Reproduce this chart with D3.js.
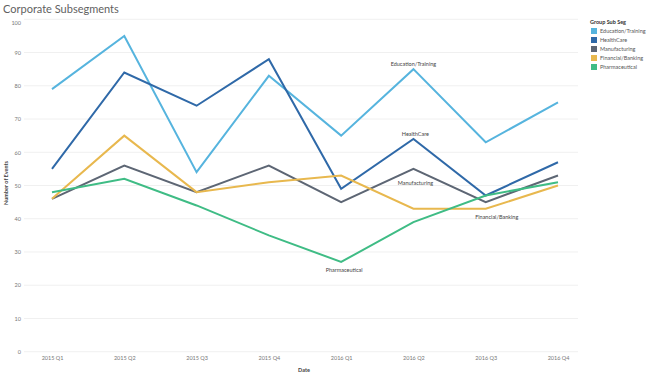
<!DOCTYPE html>
<html><head><meta charset="utf-8">
<script src="https://cdn.jsdelivr.net/npm/d3@7"></script>
<style>body{margin:0;background:#fff;}svg{display:block;font-family:Lato,"Open Sans",sans-serif;}</style>
</head><body>
<svg id="c" width="650" height="376"></svg>
<script>
const quarters = ["2015 Q1","2015 Q2","2015 Q3","2015 Q4","2016 Q1","2016 Q2","2016 Q3","2016 Q4"];
const seriesNames = ["Education/Training","HealthCare","Manufacturing","Financial/Banking","Pharmaceutical"];
const educationTraining = [79,95,54,83,65,85,63,75];
const healthCare = [55,84,74,88,49,64,47,57];
const manufacturing = [46,56,48,56,45,55,45,53];
const financialBanking = [46,65,48,51,53,43,43,50];
const pharmaceutical = [48,52,44,35,27,39,47,51];
const yTicks = [0,10,20,30,40,50,60,70,80,90,100];
const colors = ["#56b4de","#2f69a8","#5d6674","#e8b84e","#3fbc85"];
// annotation: index of point to label, offset
const labelAt = [5,5,5,6,4];
const labelDy = [-3,-3,16,10.5,10];
const labelDx = [0,2,2,11,3];

const values = [educationTraining,healthCare,manufacturing,financialBanking,pharmaceutical];
const svg = d3.select("#c");
const x = d3.scalePoint().domain(quarters).range([52,558]);
const y = d3.scaleLinear().domain([0,100]).range([351.7,19.3]);

svg.append("text").attr("x",3).attr("y",13).attr("font-size",11).attr("font-weight",400).attr("fill","#5f5f5f").text("Corporate Subsegments");

// gridlines
svg.append("g").selectAll("line").data(yTicks).join("line")
  .attr("x1",24).attr("x2",578).attr("y1",d=>y(d)).attr("y2",d=>y(d))
  .attr("stroke","#f0f0f0").attr("stroke-width",1);

// y axis
const ya = svg.append("g").attr("transform","translate(24,0)")
  .call(d3.axisLeft(y).tickValues(yTicks).tickSize(0).tickPadding(3));
ya.select(".domain").remove();
ya.selectAll("text").attr("font-size",5.5).attr("fill","#777").attr("font-family","Lato,sans-serif")
  .attr("dy",(d)=> d===100 ? "0.9em" : "0.32em");

svg.append("text").attr("transform","translate(8,183) rotate(-90)").attr("text-anchor","middle")
  .attr("font-size",5.5).attr("font-weight","bold").attr("fill","#444").text("Number of Events");

// x axis
const xa = svg.append("g").attr("transform","translate(0,354)")
  .call(d3.axisBottom(x).tickSize(0).tickPadding(2));
xa.select(".domain").remove();
xa.selectAll("text").attr("font-size",5.5).attr("fill","#777").attr("font-family","Lato,sans-serif");
svg.append("text").attr("x",304).attr("y",372).attr("text-anchor","middle")
  .attr("font-size",5.5).attr("font-weight","bold").attr("fill","#444").text("Date");

// lines
const line = d3.line().x((d,i)=>x(quarters[i])).y(d=>y(d));
svg.append("g").selectAll("path").data(values).join("path")
  .attr("d",d=>line(d)).attr("fill","none")
  .attr("stroke",(d,i)=>colors[i]).attr("stroke-width",2).attr("stroke-linejoin","miter");

// annotations
svg.append("g").selectAll("text").data(seriesNames).join("text")
  .attr("x",(d,i)=>x(quarters[labelAt[i]])+labelDx[i])
  .attr("y",(d,i)=>y(values[i][labelAt[i]])+labelDy[i])
  .attr("text-anchor","middle").attr("font-size",5.5).attr("fill","#444").text(d=>d);

// legend
const lg = svg.append("g").attr("transform","translate(590,0)");
lg.append("text").attr("x",0).attr("y",24).attr("font-size",5.5).attr("font-weight","bold").attr("fill","#333").text("Group Sub Seg");
const it = lg.selectAll("g.i").data(seriesNames).join("g").attr("class","i")
  .attr("transform",(d,i)=>`translate(0,${28+i*9})`);
it.append("rect").attr("x",1).attr("y",0).attr("width",6).attr("height",6).attr("fill",(d,i)=>colors[i]);
it.append("text").attr("x",10).attr("y",5).attr("font-size",5.5).attr("fill","#555").text(d=>d);
</script>
</body></html>
